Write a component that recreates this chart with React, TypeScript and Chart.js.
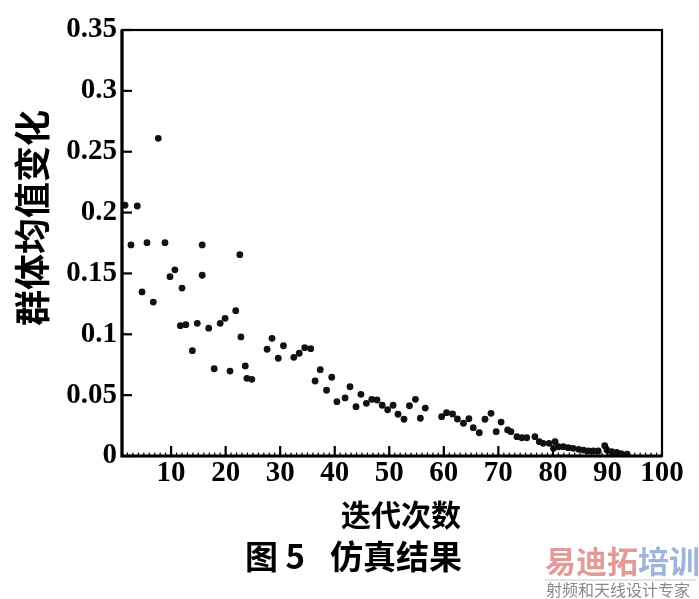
import React, { useEffect, useRef } from "react";
import { Chart, registerables } from "chart.js";
Chart.register(...registerables);

// 迭代次数 (x) and 群体均值变化 (y)
const iterations = [
  1.55, 3.8, 2.65, 5.58, 8.88, 7.65, 15.7, 22.6, 4.67, 6.74,
  9.8, 10.7, 12.0, 15.7, 11.7, 12.7, 14.8, 16.9, 19.0, 19.9,
  21.85, 22.8, 13.9, 17.9, 20.8, 23.6, 23.9, 24.8, 27.6, 28.5,
  29.65, 30.6, 32.5, 33.5, 34.5, 35.6, 36.4, 37.35, 38.5, 39.45,
  40.4, 41.9, 42.8, 43.9, 44.8, 45.8, 46.8, 47.75, 48.7, 49.7,
  50.7, 51.6, 52.7, 53.7, 54.8, 55.7, 56.6, 59.6, 60.5, 61.6,
  62.5, 63.6, 64.6, 65.4, 66.5, 67.55, 68.65, 69.6, 70.5, 71.7,
  72.3, 73.4, 74.3, 75.2, 76.7, 77.5, 78.2, 79.3, 80.4, 80.1,
  81.0, 81.9, 82.8, 83.7, 84.7, 85.6, 86.5, 87.4, 88.3, 89.5,
  89.9, 90.8, 91.7, 92.5, 93.6,
];
const meanChange = [
  0.206, 0.2054, 0.1734, 0.1753, 0.1753, 0.261, 0.1734, 0.1654, 0.1348, 0.1265,
  0.1473, 0.153, 0.138, 0.1485, 0.1071, 0.1079, 0.109, 0.105, 0.109, 0.1131,
  0.1194, 0.0978, 0.0865, 0.0717, 0.0698, 0.074, 0.0638, 0.063, 0.0877, 0.0967,
  0.0803, 0.0906, 0.0811, 0.0844, 0.089, 0.0882, 0.0616, 0.0709, 0.054, 0.0647,
  0.0446, 0.0477, 0.0569, 0.0405, 0.0507, 0.0433, 0.0466, 0.046, 0.0417, 0.038,
  0.0417, 0.0343, 0.0302, 0.0413, 0.0466, 0.031, 0.0394, 0.0323, 0.0356, 0.0345,
  0.0304, 0.0269, 0.0306, 0.0233, 0.0191, 0.0302, 0.0351, 0.02, 0.0279, 0.0214,
  0.02, 0.0159, 0.015, 0.015, 0.0159, 0.0118, 0.0104, 0.0104, 0.0118, 0.0063,
  0.0076, 0.0076, 0.0068, 0.0063, 0.0055, 0.0049, 0.0041, 0.0041, 0.0041, 0.0085,
  0.0049, 0.0035, 0.003, 0.002, 0.0016,
];

const xTickValues = [10, 20, 30, 40, 50, 60, 70, 80, 90, 100];
const yTickValues = [0, 0.05, 0.1, 0.15, 0.2, 0.25, 0.3, 0.35];
const yTickLabels = ["0", "0.05", "0.1", "0.15", "0.2", "0.25", "0.3", "0.35"];

const xAxisTitle = "迭代次数";
const yAxisTitle = "群体均值变化";
const captionFig = "图 5";
const captionText = "仿真结果";
const wmRed = "易迪拓";
const wmBlue = "培训";
const wmSub = "射频和天线设计专家";

const CJK = "'Noto Sans CJK SC', sans-serif";

const decorPlugin = {
  id: "decor",
  afterDraw(chart: any) {
    const { ctx, chartArea, scales } = chart;
    const { left, right, top, bottom } = chartArea;
    const x = scales.x;
    const y = scales.y;
    ctx.save();
    ctx.strokeStyle = "#000";
    ctx.lineWidth = 2.2;
    ctx.strokeRect(left, top, right - left, bottom - top);
    ctx.lineWidth = 3.2;
    ctx.beginPath();
    ctx.moveTo(left, top);
    ctx.lineTo(left, bottom);
    ctx.lineTo(right, bottom);
    ctx.stroke();

    const line = (x1: number, y1: number, x2: number, y2: number, w: number) => {
      ctx.lineWidth = w;
      ctx.beginPath();
      ctx.moveTo(x1, y1);
      ctx.lineTo(x2, y2);
      ctx.stroke();
    };
    yTickValues.forEach((v) => {
      const py = y.getPixelForValue(v);
      line(left, py, left + 10, py, 2.2);
    });
    xTickValues.forEach((v) => {
      if (v >= x.max) return;
      const px = x.getPixelForValue(v);
      line(px, bottom, px, bottom - 10, 2.2);
    });
    for (let v = Math.ceil(x.min) + 1; v < x.max; v++) {
      const px = x.getPixelForValue(v);
      line(px, bottom, px, bottom - 3.5, 1.2);
    }

    ctx.fillStyle = "#000";
    ctx.textBaseline = "middle";
    ctx.textAlign = "center";
    // y-axis title
    ctx.save();
    ctx.translate(32, 218);
    ctx.rotate(-Math.PI / 2);
    ctx.font = `bold 36px ${CJK}`;
    ctx.fillText(yAxisTitle, 0, 0);
    ctx.restore();
    // x-axis title
    ctx.font = `bold 30px ${CJK}`;
    ctx.fillText(xAxisTitle, 401, 515);
    // caption
    ctx.font = `bold 33px ${CJK}`;
    ctx.textAlign = "left";
    ctx.fillText(captionFig, 245, 556);
    ctx.fillText(captionText, 330, 556);
    // watermark
    ctx.font = `bold 31px ${CJK}`;
    ctx.fillStyle = "#e59a9a";
    ctx.fillText(wmRed, 545, 561);
    const wRed = ctx.measureText(wmRed).width;
    ctx.fillStyle = "#9fb4da";
    ctx.fillText(wmBlue, 545 + wRed, 561);
    ctx.strokeStyle = "#c8c8c8";
    line(545, 580, 696, 580, 1);
    ctx.font = `16px ${CJK}`;
    ctx.fillStyle = "#8a8a8a";
    ctx.fillText(wmSub, 546, 590);
    ctx.restore();
  },
};

export default function App() {
  const ref = useRef<HTMLCanvasElement | null>(null);
  useEffect(() => {
    if (!ref.current) return;
    const points = iterations.map((v, i) => ({ x: v, y: meanChange[i] }));
    const tickFont = { family: "'Liberation Serif', 'Times New Roman', serif", size: 29, weight: "bold" as const };
    const chart = new Chart(ref.current, {
      type: "scatter",
      data: {
        datasets: [
          {
            data: points,
            backgroundColor: "#111",
            borderWidth: 0,
            pointRadius: 3.4,
          },
        ],
      },
      plugins: [decorPlugin],
      options: {
        responsive: false,
        animation: false,
        layout: { padding: { left: 8, top: 30, right: 37, bottom: 0 } },
        plugins: { legend: { display: false }, tooltip: { enabled: false } },
        scales: {
          x: {
            type: "linear",
            min: 1,
            max: 100,
            grid: { display: false, drawTicks: false },
            border: { display: false },
            afterBuildTicks: (s: any) => {
              s.ticks = xTickValues.map((v) => ({ value: v }));
            },
            afterFit: (s: any) => {
              s.height = 143;
            },
            ticks: {
              font: tickFont,
              color: "#000",
              padding: 0,
              maxRotation: 0,
              autoSkip: false,
              callback: (v: any) => String(v),
            },
          },
          y: {
            type: "linear",
            min: 0,
            max: 0.35,
            grid: { display: false, drawTicks: false },
            border: { display: false },
            afterBuildTicks: (s: any) => {
              s.ticks = yTickValues.map((v) => ({ value: v }));
            },
            afterFit: (s: any) => {
              s.width = 114;
            },
            ticks: {
              font: tickFont,
              color: "#000",
              padding: 5,
              autoSkip: false,
              callback: (_v: any, i: number) => yTickLabels[i],
            },
          },
        },
      },
    });
    return () => chart.destroy();
  }, []);
  return (
    <div style={{ position: "fixed", left: 0, top: 0, width: 699, height: 599, background: "#fff" }}>
      <canvas ref={ref} width={699} height={599} style={{ display: "block" }} />
    </div>
  );
}
